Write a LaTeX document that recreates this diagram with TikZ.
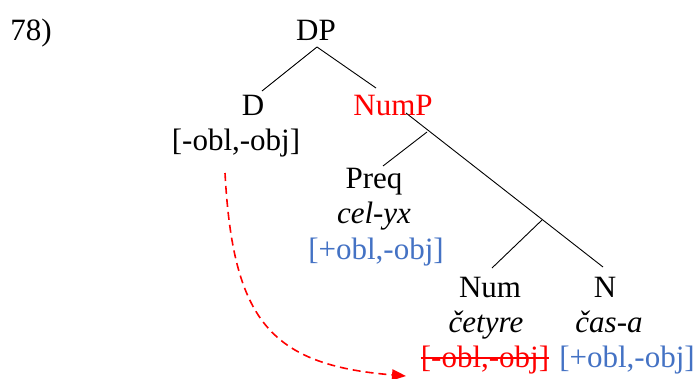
\documentclass[tikz,border=0pt]{standalone}
\usepackage{fontspec}
\setmainfont{Liberation Serif}
\usetikzlibrary{arrows.meta}
\definecolor{featblue}{HTML}{4472C4}
\definecolor{featred}{HTML}{FF0000}
\begin{document}
\begin{tikzpicture}[x=1pt,y=-1pt,
  lbl/.style={anchor=base,inner sep=0pt,font=\fontsize{31}{35}\selectfont},
  edge/.style={line width=0.9pt},
  move/.style={featred,line width=1.6pt,dash pattern=on 8pt off 5pt,-{Triangle[length=14pt,width=11pt]}}]
\useasboundingbox (0,0) rectangle (697,378);
% labels
\node[lbl] (ex) at (31,40) {78)};
\node[lbl] (dp) at (316,40) {DP};
\node[lbl] (d) at (253,115) {D};
\node[lbl] (dfeat) at (236,150) {[-obl,-obj]};
\node[lbl,text=featred] (nump) at (393,115) {NumP};
\node[lbl] (preq) at (374,188) {Preq};
\node[lbl] (celyx) at (374,223) {\itshape cel-yx};
\node[lbl,text=featblue] (pfeat) at (376,259) {[+obl,-obj]};
\node[lbl] (num) at (490,297) {Num};
\node[lbl] (cetyre) at (486,332) {\itshape četyre};
\node[lbl,text=featred] (numfeat) at (485,367) {[-obl,-obj]};
\node[lbl] (n) at (605,297) {N};
\node[lbl] (casa) at (609,332) {\itshape čas-a};
\node[lbl,text=featblue] (nfeat) at (627,367) {[+obl,-obj]};
% tree geometry
\coordinate (dpb) at (317,47);
\coordinate (dt) at (262,91);
\coordinate (numpt) at (376,88);
\coordinate (numpb) at (406,113);
\coordinate (pb) at (427,132);
\coordinate (preqt) at (383,166);
\coordinate (br) at (542,220);
\coordinate (numt) at (492,268);
\coordinate (nt) at (603,267);
\draw[edge] (dpb) -- (dt);
\draw[edge] (dpb) -- (numpt);
\draw[edge] (numpb) -- (nt);
\draw[edge] (pb) -- (preqt);
\draw[edge] (br) -- (numt);
% strike-through
\draw[featred,line width=1.4pt] ([yshift=9pt]numfeat.base west) -- ([yshift=9pt]numfeat.base east);
% movement arrow
\coordinate (mstart) at (225,173);
\coordinate (mend) at (406,376);
\draw[move] (mstart) .. controls (233,320) and (270,365) .. (mend);
\end{tikzpicture}
\end{document}
